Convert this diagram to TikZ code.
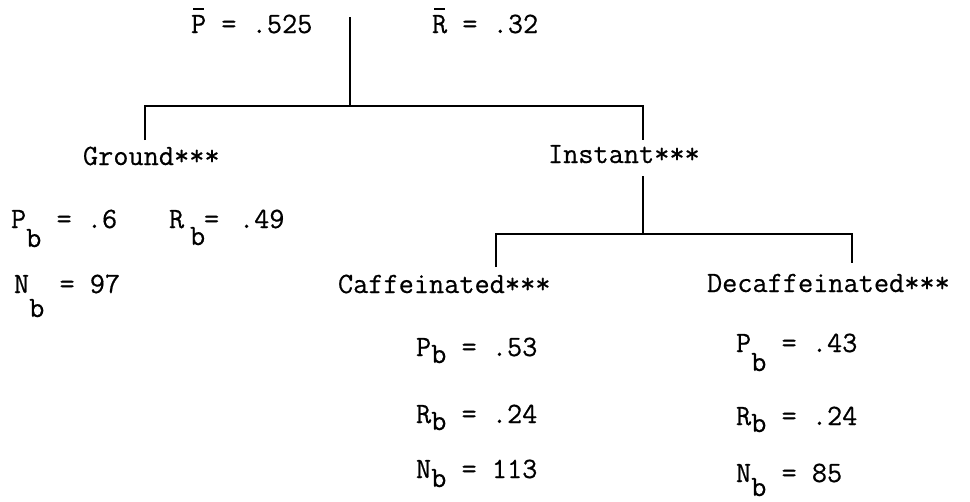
\documentclass[tikz,border=0pt]{standalone}
\usepackage{fontspec}
\setmonofont{Latin Modern Mono}[FakeBold=0.5]
\newlength\pxu
\setlength\pxu{0.75pt}
\newcommand\lowb[1]{\raisebox{-#1\pxu}{b}}
\newcommand\ovb[1]{\makebox[0pt][l]{\hspace{2\pxu}\raisebox{23\pxu}{\rule{11\pxu}{1.6\pxu}}}#1}
\begin{document}
\begin{tikzpicture}[x=0.75pt,y=-0.75pt,
  txt/.style={anchor=base west,inner sep=0pt,outer sep=0pt,font=\ttfamily\fontsize{22.1pt}{26pt}\selectfont},
  conn/.style={line width=1.1pt,line join=miter}]
\useasboundingbox (0,0) rectangle (970,501);
% top labels
\node[txt] (pbar) at (191,33) {\ovb{P} = .525};
\node[txt] (rbar) at (432,33) {\ovb{R} = .32};
% level 1
\node[txt] (ground) at (83,165) {Ground***};
\node[txt] (instant) at (548,163) {Instant***};
% level 2
\node[txt] (caff) at (338,293) {Caffeinated***};
\node[txt] (decaf) at (707,292) {Decaffeinated***};
% Ground stats
\node[txt] (gP) at (11,228) {P\lowb{19} = .6};
\node[txt] (gR) at (169,228) {R};
\node[txt] (gRb) at (190,245) {b};
\node[txt] (gReq) at (204,228) {=};
\node[txt] (gRv) at (239,228) {.49};
\node[txt] (gN) at (14,293) {N\lowb{24} = 97};
% Caffeinated stats
\node[txt] (cP) at (416,356) {P\lowb{7} = .53};
\node[txt] (cR) at (416,423) {R\lowb{7} = .24};
\node[txt] (cN) at (416,478) {N\lowb{9} = 113};
% Decaffeinated stats
\node[txt] (dP) at (736,352) {P\lowb{19} = .43};
\node[txt] (dR) at (736,425) {R\lowb{7} = .24};
\node[txt] (dN) at (736,482) {N\lowb{14} = 85};
% connector points
\coordinate (rt) at (350,17);
\coordinate (rb) at (350,106);
\coordinate (g0) at (145,106);
\coordinate (g1) at (145,140);
\coordinate (i0) at (643,106);
\coordinate (i1) at (643,140);
\coordinate (it) at (643,176);
\coordinate (ib) at (643,234);
\coordinate (c0) at (496,234);
\coordinate (c1) at (496,267);
\coordinate (d0) at (852,234);
\coordinate (d1) at (852,263);
\draw[conn] (rt) -- (rb);
\draw[conn] (g1) -- (g0) -- (i0) -- (i1);
\draw[conn] (it) -- (ib);
\draw[conn] (c1) -- (c0) -- (d0) -- (d1);
\end{tikzpicture}
\end{document}
